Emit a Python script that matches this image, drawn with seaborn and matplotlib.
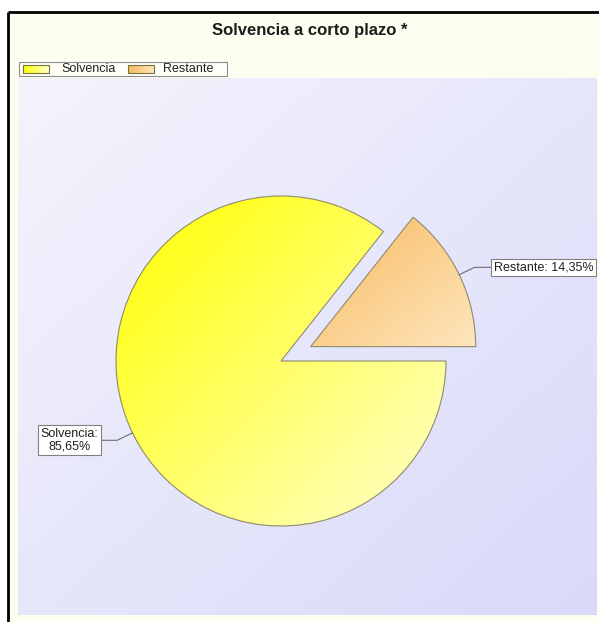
import numpy as np
import matplotlib.pyplot as plt
from matplotlib.patches import Rectangle
import seaborn as sns

# data
labels = ["Solvencia", "Restante"]
values = [85.65, 14.35]
explode = [0.0, 0.2]
title = "Solvencia a corto plazo *"
# gradient colours (strong end, pale end)
strong_colors = ["#FFFF00", "#F8BA60"]
pale_colors = ["#FFFFCC", "#FEE6BE"]

sns.set_theme(style="white")
plt.rcParams["font.family"] = ["Liberation Sans", "DejaVu Sans"]

W, H = 599, 622
RADIUS = 165
fig = plt.figure(figsize=(W / 100, H / 100), dpi=100, facecolor="white")
ax = fig.add_axes([0, 0, 1, 1])


def gradient(ax, extent, cmap, clip=None, zorder=1, horizontal=False):
    X, Y = np.meshgrid(np.linspace(0, 1, 256), np.linspace(0, 1, 256))
    Z = X if horizontal else (X + Y) / 2
    im = ax.imshow(Z, extent=extent, origin="upper", cmap=cmap, vmin=0, vmax=1,
                   aspect="auto", zorder=zorder, interpolation="bilinear")
    if clip is not None:
        im.set_clip_path(clip)
    return im


# outer frame, ivory panel and lavender plot area (pixel coords, y up)
ax.add_patch(Rectangle((8, 0), W - 8, 610, fc="#FEFEF0", ec="none", zorder=0))
ax.plot([8, 8], [0, 610], color="black", lw=2, zorder=5, solid_capstyle="butt")
ax.plot([8, W], [610, 610], color="black", lw=2, zorder=5, solid_capstyle="butt")
lav = sns.blend_palette(["#F4F4FD", "#D9D9F9"], as_cmap=True)
gradient(ax, (18, 597, 7, 544), lav, zorder=1)

# pie (explode is in data units here, so scale by the radius)
wedges, _ = ax.pie(values, explode=[e * RADIUS for e in explode], radius=RADIUS,
                   center=(281, 261), startangle=0, counterclock=False, frame=True,
                   wedgeprops=dict(fc="none", ec="#8f8a6e", lw=0.8, zorder=3))

for w, c0, c1 in zip(wedges, strong_colors, pale_colors):
    v = w.get_path().vertices
    ext = (v[:, 0].min(), v[:, 0].max(), v[:, 1].min(), v[:, 1].max())
    gradient(ax, ext, sns.blend_palette([c0, c1], as_cmap=True), clip=w, zorder=2)

# slice labels with elbow connectors
for w, lab, val in zip(wedges, labels, values):
    ang = np.deg2rad((w.theta1 + w.theta2) / 2)
    cx, cy = w.center
    r = w.r
    p0 = (cx + r * np.cos(ang), cy + r * np.sin(ang))
    p1 = (cx + (r + 17) * np.cos(ang), cy + (r + 17) * np.sin(ang))
    side = 1 if np.cos(ang) > 0 else -1
    p2 = (p1[0] + 16 * side, p1[1])
    ax.plot([p0[0], p1[0], p2[0]], [p0[1], p1[1], p2[1]], color="#6e6e6e", lw=0.8, zorder=4)
    sep = " " if side > 0 else "\n"
    txt = f"{lab}:{sep}{val:.2f}".replace(".", ",") + "%"
    ax.text(p2[0] + side * 3, p2[1], txt, ha="left" if side > 0 else "right", va="center",
            multialignment="center", fontsize=9, color="#202020", linespacing=1.05, zorder=6,
            bbox=dict(boxstyle="square,pad=0.22", fc="white", ec="#808080", lw=0.8))

# title
ax.text(310, H - 31, title, ha="center", va="center", fontsize=12,
        fontweight="bold", color="#1c1c1c", zorder=6)

# legend drawn by hand so handles can carry the gradient
ax.add_patch(Rectangle((19, 546), 208, 14, fc="#FFFFF8", ec="#8c8c8c", lw=0.8, zorder=4))
handle_x = [23, 128]
text_x = [61, 163]
for hx, tx, lab, c0, c1 in zip(handle_x, text_x, labels, strong_colors, pale_colors):
    rect = Rectangle((hx, 549), 26, 8, fc="none", ec="#7a7040", lw=0.8, zorder=6)
    ax.add_patch(rect)
    gradient(ax, (hx, hx + 26, 549, 557), sns.blend_palette([c0, c1], as_cmap=True),
             zorder=5, horizontal=True)
    ax.text(tx, 553, lab, ha="left", va="center", fontsize=9, color="#202020", zorder=6)

ax.set_xlim(0, W)
ax.set_ylim(0, H)
ax.set_aspect("auto")
ax.axis("off")

fig.savefig("out.png", dpi=100, facecolor="white")
